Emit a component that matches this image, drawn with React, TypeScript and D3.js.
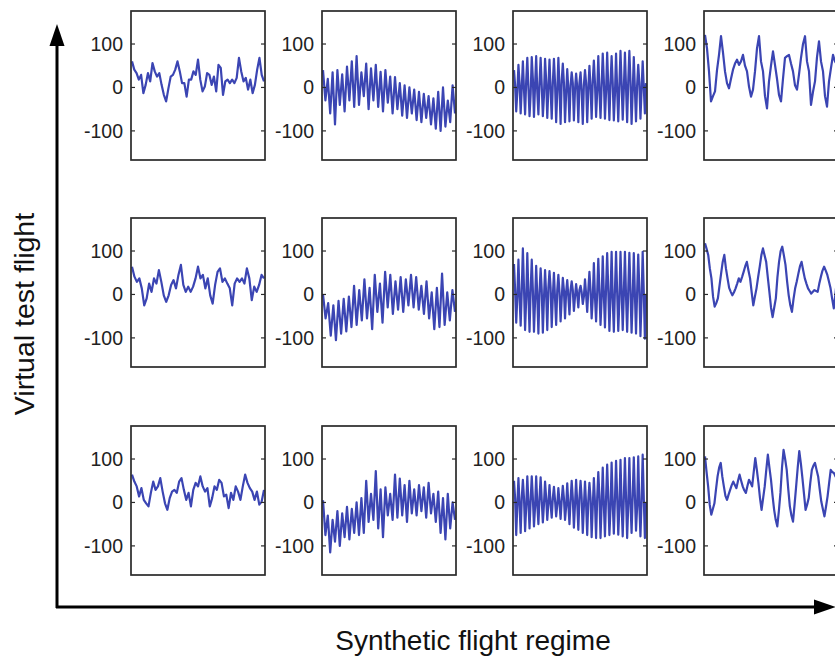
import React from 'react';
import * as d3 from 'd3';

// ---- data ----
const yTickValues = [100, 0, -100];
const yTickLabels = ['100', '0', '-100'];
const yTitle = 'Virtual test flight';
const xTitle = 'Synthetic flight regime';

const s11 = [60, 41, 33, 18, 29, -13, 6, 33, 14, 56, 37, 25, 33, 6, -17, -32, -2, 25, 29, 41, 60, 37, 10, 10, -21, 18, 18, 37, 29, 64, 18, -9, 2, 33, 29, 6, 25, -9, 52, 45, -17, 14, 18, 10, 18, 10, 22, 68, 37, 14, 22, -5, 18, -13, 6, 41, 68, 29, 14];
const s12 = [40, -30, 20, -60, 35, -85, 40, -40, 30, -55, 48, -30, 60, -45, 72, -40, 35, -20, 55, -50, 44, -30, 52, -45, 36, -55, 40, -35, 25, -60, 24, -50, 10, -65, 5, -70, 0, -60, -5, -75, -10, -80, -15, -70, -20, -85, -25, -95, -10, -100, 0, -90, -30, -80, 5, -60];
const s13 = [
  40, 5, -55, -10, 52, 10, -60, 0, 60, -5, -62, 15, 68, 0, -66, -15, 70, 20, -68, 5,
  72, -10, -62, 10, 68, 5, -66, -20, 66, 15, -70, 0, 64, -5, -72, 10, 66, 10, -80, -10,
  68, 0, -84, 15, 55, 10, -80, -15, 42, -5, -78, 5, 35, 10, -76, -5, 32, 0, -80, 10,
  35, -10, -84, 5, 40, 10, -80, -5, 50, 0, -72, 15, 62, 10, -68, -10, 72, -5, -70, 5,
  78, 15, -72, -10, 80, 0, -75, 10, 72, 10, -76, -15, 78, -5, -78, 5, 84, 10, -74, -5,
  80, 0, -80, 15, 84, 15, -84, -10, 70, -5, -78, 5, 52, 10, -72, -5, 60, 0, -60, 10,
];
const s14 = [121, 90, 37, -32, -20, -9, 40, 75, 118, 80, 37, 10, -2, 20, 41, 55, 64, 52, 60, 75, 50, 37, 2, -21, -5, 37, 90, 118, 60, 37, -20, -48, 14, 50, 83, 52, 20, -17, -32, 20, 68, 72, 75, 55, 37, 5, -5, 30, 68, 100, 118, 60, 37, -40, -10, 14, 70, 106, 60, 37, -20, -44, 14, 45, 75, 60, 52];

const s21 = [64, 41, 29, 37, 14, -25, -9, 25, 6, 37, 25, 56, 29, -2, -17, -2, 22, 33, 14, 45, 68, 22, 6, 18, 6, 18, 37, 64, 37, 45, 14, 37, -2, -21, 22, 52, 60, 29, 37, 25, 14, -25, 25, 37, 29, 37, 25, 60, 37, -13, 18, 6, 22, 45, 37];
const s22 = [0, -55, -20, -95, -25, -105, -15, -90, -10, -85, -5, -75, 20, -70, 10, -60, 35, -55, 15, -80, 45, -40, 25, -65, 52, -30, 45, -45, 30, -35, 40, -40, 35, -25, 45, -30, 40, -35, 20, -45, 30, -55, 5, -80, 15, -75, 48, -70, 5, -60, 10, -40];
const s23 = [
  70, 10, -65, -5, 80, -5, -72, 10, 106, 15, -82, -10, 95, 0, -86, 10, 80, 10, -86, -15,
  66, -5, -90, 5, 60, 10, -88, -10, 56, 0, -82, 15, 54, 15, -75, -5, 50, -10, -70, 10,
  45, 5, -62, -10, 38, 10, -55, 5, 33, -5, -46, 10, 30, 10, -38, -5, 24, 0, -30, 10,
  20, 5, -22, -5, 35, 0, -40, 10, 52, 10, -55, -10, 72, -5, -62, 5, 82, 10, -70, -10,
  88, 0, -76, 15, 95, 10, -84, -5, 98, -10, -86, 10, 98, 5, -84, -15, 98, 15, -82, 0,
  98, -5, -86, 10, 96, 10, -88, -10, 95, 0, -90, 5, 92, 10, -96, -10, 98, 5, -102, 0,
];
const s24 = [118, 105, 91, 60, 37, -5, -28, -20, -9, 20, 48, 75, 91, 60, 37, 15, 6, -2, 5, 14, 25, 37, 29, 40, 52, 65, 75, 55, 37, 5, -25, -5, 14, 40, 64, 90, 106, 90, 75, 40, 6, -30, -52, -30, -9, 40, 75, 100, 110, 90, 68, 30, -2, -25, -40, -10, 14, 30, 48, 65, 75, 55, 37, 25, 14, 8, 2, 6, 10, 8, 6, 25, 41, 55, 64, 55, 45, 30, 14, -10, -32, 0, 37];

const s31 = [64, 48, 37, 14, 33, 6, -2, -9, 22, 48, 29, 37, 56, 25, -2, -17, 10, 25, 29, 22, 48, 56, 29, 6, 22, -9, 29, 45, 37, 60, 37, 25, 33, -9, 10, 37, 29, 52, 45, 14, 18, -13, 22, 6, 37, 25, 6, 37, 64, 45, 33, 25, 6, 25, -5, 2, 29];
const s32 = [5, -75, -30, -115, -40, -90, -20, -100, -25, -80, -10, -85, -15, -70, 0, -75, 10, -70, 50, -45, 20, -40, 72, -60, 30, -80, 35, -30, 20, -40, 64, -35, 55, -30, 40, -45, 50, -25, 30, -30, 40, -20, 35, -35, 45, -25, 20, -45, 25, -70, 10, -85, 20, -60, 0, -40];
const s33 = [
  50, 10, -75, -5, 56, -5, -70, 10, 52, 10, -66, -10, 60, 0, -60, 5, 60, 10, -55, -10,
  60, -5, -50, 10, 58, 5, -46, -5, 48, 10, -40, 0, 40, -5, -35, 10, 36, 5, -32, -5,
  33, 0, -38, 5, 38, 10, -40, -10, 44, -5, -50, 5, 50, 10, -58, -5, 52, 0, -63, 10,
  50, 10, -70, -10, 48, -5, -75, 5, 45, 10, -80, -10, 56, 0, -82, 10, 70, 15, -82, -5,
  80, -5, -78, 10, 87, 10, -75, -15, 92, 0, -72, 5, 96, 15, -74, -10, 98, -5, -78, 10,
  102, 10, -82, -5, 102, 0, -70, 15, 104, 15, -65, -10, 106, -5, -78, 5, 110, 10, -82, 0,
];
const s34 = [106, 70, 37, -5, -28, -15, -2, 30, 60, 80, 91, 60, 37, 15, 6, 18, 29, 40, 48, 40, 33, 50, 64, 50, 37, 28, 22, 38, 52, 45, 37, 70, 102, 75, 45, 10, -17, 10, 37, 75, 110, 80, 52, 15, -17, -40, -55, -20, 22, 80, 121, 100, 75, 30, -9, -30, -44, -5, 37, 80, 118, 90, 56, 20, -17, -5, 10, 45, 75, 85, 91, 75, 60, 30, 2, -15, -32, -10, 14, 45, 75, 70, 68, 60, 56];

const grid = [
  [s11, s12, s13, s14],
  [s21, s22, s23, s24],
  [s31, s32, s33, s34],
];

// ---- layout ----
const W = 835;
const H = 658;
const colLefts = [131, 322, 513, 704];
const rowTops = [11, 218, 426];
const boxW = 134;
const boxH = 149;
const lineColor = '#3b45b3';
const frameColor = '#2a2a2a';
const font = "Arial, 'Liberation Sans', Helvetica, sans-serif";

export default function App() {
  return (
    <svg
      width={W}
      height={H}
      style={{ position: 'absolute', left: 0, top: 0, background: '#fff' }}
      fontFamily={font}
    >
      <rect width={W} height={H} fill="#fff" />
      {grid.map((row, r) =>
        row.map((vals, c) => {
          const x0 = colLefts[c];
          const y0 = rowTops[r];
          const x = d3.scaleLinear().domain([0, vals.length - 1]).range([x0 + 1, x0 + boxW - 1]);
          const y = d3.scaleLinear().domain([-167, 176]).range([y0 + boxH, y0]);
          const line = d3
            .line<number>()
            .x((_, i) => x(i))
            .y((d) => y(d));
          const cid = `clip-${r}-${c}`;
          return (
            <g key={cid}>
              <defs>
                <clipPath id={cid}>
                  <rect x={x0} y={y0} width={boxW} height={boxH} />
                </clipPath>
              </defs>
              <path
                d={line(vals) || ''}
                fill="none"
                stroke={lineColor}
                strokeWidth={2.2}
                strokeLinejoin="round"
                clipPath={`url(#${cid})`}
              />
              <rect x={x0} y={y0} width={boxW} height={boxH} fill="none" stroke={frameColor} strokeWidth={1.7} />
              {yTickValues.map((t, i) => (
                <g key={i}>
                  <line x1={x0} x2={x0 + 4} y1={y(t)} y2={y(t)} stroke={frameColor} strokeWidth={1.2} />
                  <line x1={x0 + boxW} x2={x0 + boxW - 4} y1={y(t)} y2={y(t)} stroke={frameColor} strokeWidth={1.2} />
                  <text
                    x={x0 - 8}
                    y={y(t)}
                    textAnchor="end"
                    dominantBaseline="central"
                    fontSize={19.5}
                    fill="#222"
                  >
                    {yTickLabels[i]}
                  </text>
                </g>
              ))}
            </g>
          );
        })
      )}
      {/* axis arrows */}
      <line x1={57} y1={608} x2={57} y2={42} stroke="#000" strokeWidth={3} />
      <polygon points="57,24 49.5,46 64.5,46" fill="#000" />
      <line x1={56} y1={607} x2={818} y2={607} stroke="#000" strokeWidth={3} />
      <polygon points="836,607 814,599.5 814,614.5" fill="#000" />
      <text
        transform="translate(34,314) rotate(-90)"
        textAnchor="middle"
        fontSize={28.5}
        fill="#111"
      >
        {yTitle}
      </text>
      <text x={473} y={650} textAnchor="middle" fontSize={28} fill="#111">
        {xTitle}
      </text>
    </svg>
  );
}
